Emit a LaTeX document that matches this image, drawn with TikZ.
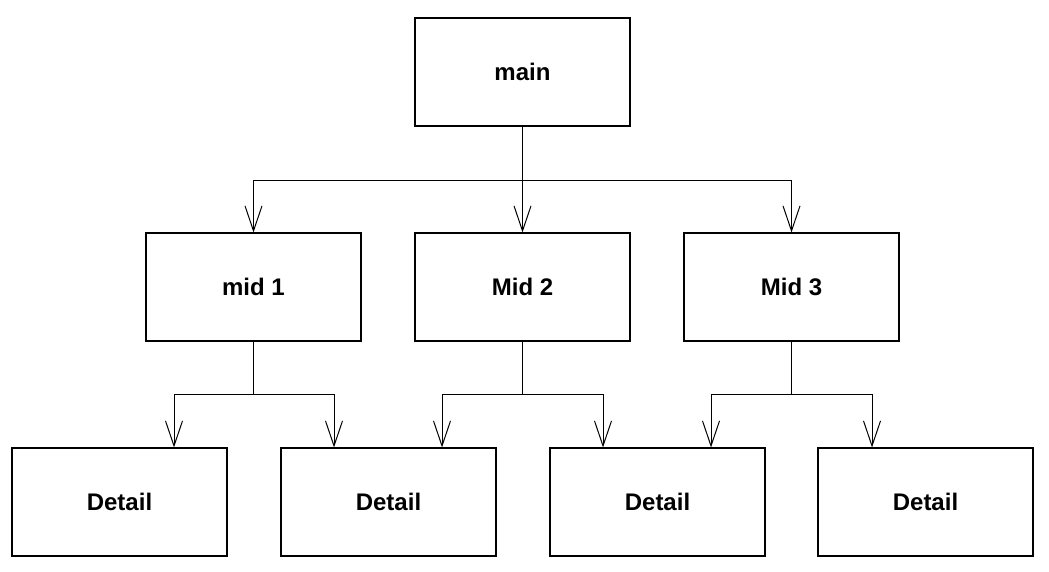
\documentclass[tikz,border=0pt]{standalone}
\usepackage{fontspec}
\setmainfont{Liberation Sans}
\usetikzlibrary{arrows.meta}
\begin{document}
\begin{tikzpicture}[x=1pt,y=-1pt,
  box/.style={draw, line width=1.1pt, rectangle, minimum width=215pt, minimum height=108pt,
    inner sep=0pt, font=\fontsize{24}{28}\selectfont\bfseries},
  link/.style={draw, line width=1pt},
  arr/.style={link, -{Straight Barb[length=25pt, width=17pt, line width=1pt]}}]
\useasboundingbox (0,0) rectangle (1049,571);
% tree nodes
\node[box] (main) at (522.5,72) {main};
\node[box] (m1) at (253.5,287) {mid 1};
\node[box] (m2) at (522.5,287) {Mid 2};
\node[box] (m3) at (791.5,287) {Mid 3};
\node[box] (d1) at (119.5,502) {Detail};
\node[box] (d2) at (388.5,502) {Detail};
\node[box] (d3) at (657.5,502) {Detail};
\node[box] (d4) at (925.5,502) {Detail};
% branching points
\coordinate (j0) at (522.5,180);
\coordinate (j1) at (253.5,394);
\coordinate (j2) at (522.5,394);
\coordinate (j3) at (791.5,394);
% main -> mids
\draw[link] (main.south) -- (j0);
\draw[arr] (j0) -| (m1.north);
\draw[arr] (j0) -- (m2.north);
\draw[arr] (j0) -| (m3.north);
% mids -> details
\draw[link] (m1.south) -- (j1);
\draw[arr] (j1) -| ([xshift=54.5pt]d1.north);
\draw[arr] (j1) -| ([xshift=-54.5pt]d2.north);
\draw[link] (m2.south) -- (j2);
\draw[arr] (j2) -| ([xshift=53.5pt]d2.north);
\draw[arr] (j2) -| ([xshift=-54.5pt]d3.north);
\draw[link] (m3.south) -- (j3);
\draw[arr] (j3) -| ([xshift=53.5pt]d3.north);
\draw[arr] (j3) -| ([xshift=-53.5pt]d4.north);
\end{tikzpicture}
\end{document}
